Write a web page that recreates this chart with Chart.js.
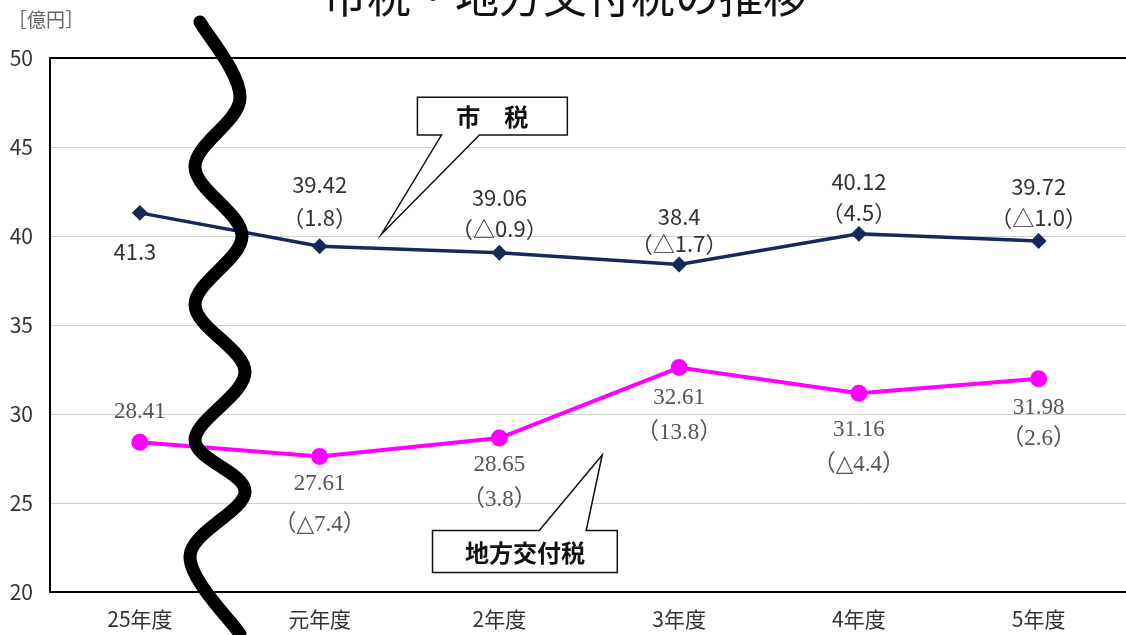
<!DOCTYPE html>
<html lang="ja">
<head>
<meta charset="UTF-8">
<title>市税・地方交付税の推移</title>
<script src="https://cdn.jsdelivr.net/npm/chart.js"></script>
<style>
    html, body {
        margin: 0;
        padding: 0;
        background: #fff;
        overflow: hidden;
    }
    .wrap {
        position: relative;
        width: 1139px;
        height: 635px;
    }
</style>
</head>
<body>
<div class="wrap"><canvas id="chart"></canvas></div>

<script>
    // data
    const years = ['25年度', '元年度', '2年度', '3年度', '4年度', '5年度'];
    const shizei = [41.3, 39.42, 39.06, 38.4, 40.12, 39.72];
    const shizeiChange = ['', '1.8', '△0.9', '△1.7', '4.5', '△1.0'];
    const koufuzei = [28.41, 27.61, 28.65, 32.61, 31.16, 31.98];
    const koufuzeiChange = ['', '△7.4', '3.8', '13.8', '△4.4', '2.6'];
    const yTicks = [20, 25, 30, 35, 40, 45, 50];

    const SANS = '"Noto Sans CJK JP", "Liberation Sans", sans-serif';
    const SERIF = '"Liberation Serif", "DejaVu Serif", "Noto Sans CJK JP", serif';

    // label placement (px from the point): value line, change line
    const shizeiDy = [[39, null], [-62, -29], [-55, -24], [-48, -21], [-52, -21], [-54, -23]];
    const koufuDy = [[-30, null], [27, 68], [27, 62], [30, 65], [37, 72], [29, 60]];

    const labelPlugin = {
        id: 'pointLabels',
        afterDatasetsDraw(chart) {
            const ctx = chart.ctx;
            ctx.save();
            ctx.textAlign = 'center';
            ctx.textBaseline = 'middle';

            const m0 = chart.getDatasetMeta(0);
            ctx.font = '22px ' + SANS;
            ctx.fillStyle = '#333';
            m0.data.forEach((pt, i) => {
                const dx = i === 0 ? -5 : 0;
                ctx.fillText(String(shizei[i]), pt.x + dx, pt.y + shizeiDy[i][0]);
                if (shizeiChange[i]) {
                    ctx.fillText('（' + shizeiChange[i] + '）', pt.x, pt.y + shizeiDy[i][1]);
                }
            });

            const m1 = chart.getDatasetMeta(1);
            ctx.font = '23px ' + SERIF;
            ctx.fillStyle = '#555';
            m1.data.forEach((pt, i) => {
                ctx.fillText(String(koufuzei[i]), pt.x, pt.y + koufuDy[i][0]);
                if (koufuzeiChange[i]) {
                    ctx.fillText('（' + koufuzeiChange[i] + '）', pt.x, pt.y + koufuDy[i][1]);
                }
            });
            ctx.restore();
        }
    };

    function callout(ctx, box, b1, b2, tip, onTop, text) {
        ctx.beginPath();
        ctx.moveTo(box.l, box.t);
        if (onTop) {
            ctx.lineTo(b1, box.t);
            ctx.lineTo(tip.x, tip.y);
            ctx.lineTo(b2, box.t);
        }
        ctx.lineTo(box.r, box.t);
        ctx.lineTo(box.r, box.b);
        if (!onTop) {
            ctx.lineTo(b2, box.b);
            ctx.lineTo(tip.x, tip.y);
            ctx.lineTo(b1, box.b);
        }
        ctx.lineTo(box.l, box.b);
        ctx.closePath();
        ctx.fillStyle = '#fff';
        ctx.fill();
        ctx.lineWidth = 1.5;
        ctx.strokeStyle = '#111';
        ctx.stroke();
        ctx.fillStyle = '#111';
        ctx.font = 'bold 24px ' + SANS;
        ctx.textAlign = 'center';
        ctx.textBaseline = 'middle';
        ctx.fillText(text, (box.l + box.r) / 2, (box.t + box.b) / 2 + 1);
    }

    const decoPlugin = {
        id: 'deco',
        afterDraw(chart) {
            const ctx = chart.ctx;
            const xs = chart.scales.x, ys = chart.scales.y;
            const px = v => xs.getPixelForValue(v);
            const py = v => ys.getPixelForValue(v);
            ctx.save();

            // callouts, anchored in axis units
            callout(ctx,
                { l: px(1.544), r: px(2.378), t: py(47.8), b: py(45.67) },
                px(1.678), px(1.889), { x: px(1.344), y: py(40.1) }, false, '市　税');
            callout(ctx,
                { l: px(1.628), r: px(2.656), t: py(23.45), b: py(21.1) },
                px(2.222), px(2.483), { x: px(2.572), y: py(27.7) }, true, '地方交付税');

            // wavy break mark between 25年度 and 元年度
            const wave = [[200, 22], [240, 98], [195, 167], [242, 236], [195, 305], [245, 372],
                          [195, 440], [245, 492], [190, 556], [240, 634]];
            ctx.beginPath();
            ctx.moveTo(wave[0][0], wave[0][1]);
            for (let i = 0; i < wave.length - 1; i++) {
                const p0 = wave[i - 1] || wave[i];
                const p1 = wave[i];
                const p2 = wave[i + 1];
                const p3 = wave[i + 2] || p2;
                ctx.bezierCurveTo(
                    p1[0] + (p2[0] - p0[0]) / 6, p1[1] + (p2[1] - p0[1]) / 6,
                    p2[0] - (p3[0] - p1[0]) / 6, p2[1] - (p3[1] - p1[1]) / 6,
                    p2[0], p2[1]);
            }
            ctx.lineWidth = 13;
            ctx.lineCap = 'round';
            ctx.lineJoin = 'round';
            ctx.strokeStyle = '#000';
            ctx.stroke();

            // title (cut off at the top like the source)
            ctx.fillStyle = '#111';
            ctx.font = '44px ' + SANS;
            ctx.textAlign = 'center';
            ctx.textBaseline = 'middle';
            ctx.fillText('市税・地方交付税の推移', 565, -4);

            // unit
            ctx.fillStyle = '#666';
            ctx.font = '19px ' + SANS;
            ctx.textAlign = 'left';
            ctx.fillText('［億円］', 8, 20);
            ctx.restore();
        }
    };

    new Chart(document.getElementById('chart'), {
        type: 'line',
        data: {
            labels: years,
            datasets: [{
                label: '市税',
                data: shizei,
                borderColor: '#17285a',
                backgroundColor: '#17285a',
                borderWidth: 3.5,
                pointStyle: 'rectRot',
                pointRadius: 5.5,
                tension: 0
            }, {
                label: '地方交付税',
                data: koufuzei,
                borderColor: '#ff00ff',
                backgroundColor: '#ff00ff',
                borderWidth: 4,
                pointRadius: 6.5,
                tension: 0
            }]
        },
        options: {
            responsive: true,
            maintainAspectRatio: false,
            animation: false,
            layout: { padding: { top: 58, right: 0, left: 0, bottom: 0 } },
            plugins: {
                legend: { display: false },
                title: { display: false },
                tooltip: { enabled: false }
            },
            scales: {
                x: {
                    offset: true,
                    grid: { display: false, drawTicks: false },
                    border: { display: true, color: '#000', width: 2 },
                    ticks: {
                        padding: 14,
                        color: '#333',
                        font: { size: 21, family: SANS }
                    },
                    afterFit(scale) { scale.height = 43; }
                },
                y: {
                    min: 20,
                    max: 50,
                    afterBuildTicks(scale) { scale.ticks = yTicks.map(v => ({ value: v })); },
                    grid: {
                        drawTicks: false,
                        color: c => (c.tick.value === 50 || c.tick.value === 20) ? '#000' : '#cfcfcf',
                        lineWidth: c => (c.tick.value === 50 || c.tick.value === 20) ? 2 : 1
                    },
                    border: { color: '#000', width: 2 },
                    ticks: {
                        padding: 17,
                        color: '#333',
                        font: { size: 21, family: SANS }
                    },
                    afterFit(scale) { scale.width = 50; }
                }
            }
        },
        plugins: [labelPlugin, decoPlugin]
    });
</script>
</body>
</html>
